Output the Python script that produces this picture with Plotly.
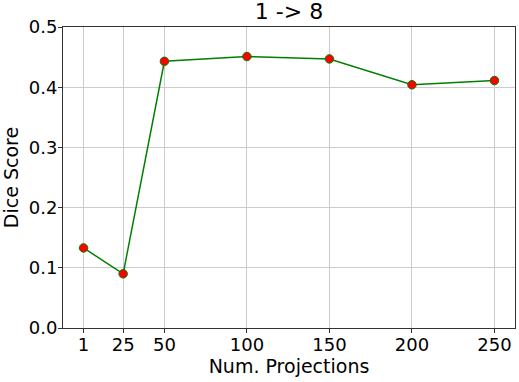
import plotly.graph_objects as go

projections = [1, 25, 50, 100, 150, 200, 250]
dice = [0.133, 0.090, 0.443, 0.451, 0.447, 0.404, 0.411]
x_ticks = [1, 25, 50, 100, 150, 200, 250]
y_ticks = [0.0, 0.1, 0.2, 0.3, 0.4, 0.5]

fig = go.Figure(go.Scatter(
    x=projections, y=dice, mode='lines+markers',
    line=dict(color='green', width=1.5),
    marker=dict(color='red', size=8.5, line=dict(color='green', width=1)),
))

axis_style = dict(
    showline=True, linecolor='#333333', linewidth=1, mirror=True,
    ticks='outside', ticklen=4, tickcolor='#333333',
    showgrid=True, gridcolor='#cccccc', gridwidth=1, zeroline=False,
    tickfont=dict(size=18, color='black'), automargin=False,
)

fig.update_layout(
    width=519, height=382,
    margin=dict(l=63, r=4, t=27, b=54),
    paper_bgcolor='white', plot_bgcolor='white',
    font=dict(family='DejaVu Sans', color='black'),
    title=dict(text='1 -> 8', xref='paper', x=0.5, xanchor='center',
               y=0.99, yanchor='top', font=dict(size=22)),
    showlegend=False,
    xaxis=dict(axis_style, range=[-11.45, 262.45], tickvals=x_ticks,
               ticklabelstandoff=-4,
               title=dict(text='Num. Projections', font=dict(size=19), standoff=3)),
    yaxis=dict(axis_style, range=[0, 0.5], tickvals=y_ticks, tickformat='.1f',
               ticklabelstandoff=-3,
               title=dict(text='Dice Score', font=dict(size=19), standoff=5)),
)

# page body has an 8px default margin, drop it so the figure fills the window
fig.write_html("out.html", config={'displayModeBar': False},
               post_script="document.body.style.margin='0';")
